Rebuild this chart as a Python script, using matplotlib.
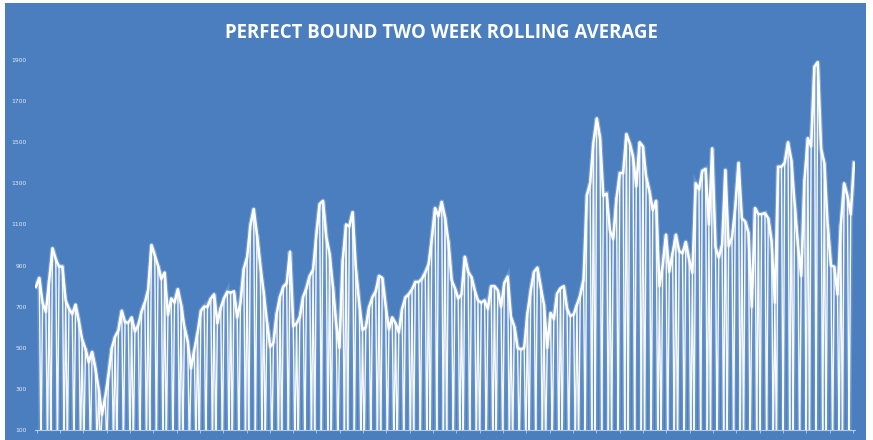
import numpy as np
import matplotlib
matplotlib.use("Agg")
import matplotlib.pyplot as plt
from matplotlib.patches import Rectangle

# ---------------- data ----------------
title = "PERFECT BOUND TWO WEEK ROLLING AVERAGE"
y_ticks = [100, 300, 500, 700, 900, 1100, 1300, 1500, 1700, 1900]

# rolling-average level on working days, read left to right
level = [
    797, 840, 718, 675, 830, 984, 930, 895, 895, 730, 690, 665, 710, 628, 540, 495,
    430, 480, 400, 300, 175, 262, 370, 500, 555, 585, 680, 625, 622,
    648, 580, 610, 676, 720, 781, 1000, 950, 900, 835, 866, 660, 740, 720, 785, 710,
    600, 530, 400, 490, 575, 680, 700, 700, 740, 760, 620, 695, 740, 772, 768, 775, 648,
    720, 885, 940, 1095, 1175, 1050, 900, 775, 630, 505, 525, 670, 750, 797, 814, 967,
    605, 619, 651, 749, 790, 850, 880, 1050, 1200, 1215, 1040, 960, 800, 620, 500, 930,
    1100, 1090, 1160, 880, 716, 587, 600, 700, 745, 775, 850, 840, 705, 590, 648, 620,
    575, 690, 745, 760, 785, 820, 820, 835, 865, 905, 1030, 1180,
    1140, 1210, 1135, 1020, 830, 790, 740, 760, 943, 870, 845, 780, 730, 720, 730, 690,
    800, 800, 780, 700, 815, 846, 650, 605, 500, 492, 500, 670, 780, 870, 890,
    797, 710, 500, 670, 640, 765, 790, 800, 690, 655, 662, 710, 755, 830, 1240, 1300,
    1500, 1616, 1520, 1240, 1250, 1070, 1030, 1230, 1350, 1350, 1540, 1495, 1430, 1285,
    1500, 1480, 1330, 1260, 1170, 1215, 800, 900, 1050, 870, 960, 1050, 970, 960, 1015,
    930, 865, 1300, 1270, 1360, 1370, 1100, 1470, 990, 940, 1000, 1365, 995, 1035, 1180,
    1400, 1130, 1115, 1060, 700, 1180, 1150,
    1150, 1155, 1130, 1020, 720, 1380, 1381, 1400, 1500, 1414, 1200, 1000, 850, 1320,
    1520, 1480, 1868, 1890, 1470, 1400, 1100, 900, 895, 760, 1100, 1300, 1240, 1150, 1400,
]

# number of working-day readings between consecutive weekend drops
week_sizes = [2, 2, 1] * 60
weekend_value = 0

# ---------------- build weekly line with weekend drops ----------------
n = len(level)
xs, ys = [], []
i = 0
for sz in week_sizes:
    if i >= n:
        break
    for j in range(sz):
        if i >= n:
            break
        xs.append(i)
        ys.append(level[i])
        i += 1
    if i < n:
        xs.append(i - 0.5)
        ys.append(weekend_value)

# ---------------- figure ----------------
W, H = 873, 440
fig = plt.figure(figsize=(W / 100, H / 100), dpi=100)
fig.patch.set_facecolor("white")
bg = "#4a7ebf"
fig.add_artist(Rectangle((5 / W, 0), (866 - 5) / W, (437) / H,
                         transform=fig.transFigure, facecolor=bg,
                         edgecolor="none", zorder=0))

ax = fig.add_axes([35 / W, (H - 430) / H, (855 - 35) / W, (430 - 60) / H])
ax.set_facecolor("none")
ax.set_xlim(-0.3, n - 1 + 0.3)
ax.set_ylim(100, 1900)

# glow under the drops
ax.plot(xs, ys, color="white", lw=3.4, alpha=0.15, solid_joinstyle="miter")
ax.plot(xs, ys, color="white", lw=1.0, alpha=0.95)
ax.plot(range(n), level, color="white", lw=3.5, alpha=0.2)
ax.plot(range(n), level, color="white", lw=1.8, alpha=1.0)

for s in ["top", "right", "left"]:
    ax.spines[s].set_visible(False)
ax.spines["bottom"].set_color((1, 1, 1, 0.6))
ax.spines["bottom"].set_linewidth(0.8)

ax.set_yticks(y_ticks)
ax.set_yticklabels([str(v) for v in y_ticks], fontsize=4.3, color=(1, 1, 1, 0.85))
ax.tick_params(axis="y", length=0, pad=6)
ax.set_xticks(np.arange(0.2, n, 7.07))
ax.set_xticklabels([])
ax.tick_params(axis="x", length=2.5, width=0.6, color=(1, 1, 1, 0.6), direction="out")

fig.text(441 / W, (H - 33) / H, title, ha="center", va="center",
         fontsize=13.4, fontweight="bold", color="white", family="Open Sans")

fig.savefig("out.png", dpi=100)
